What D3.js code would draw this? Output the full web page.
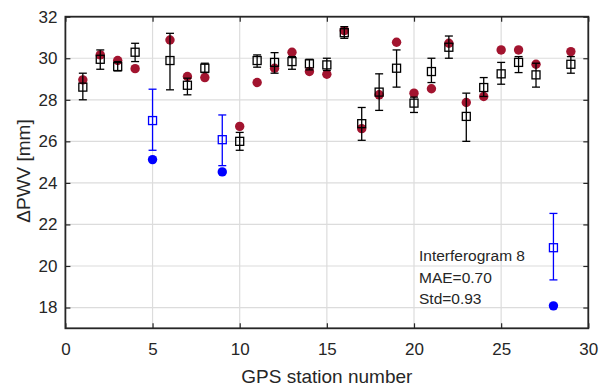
<!DOCTYPE html>
<html>
<head>
<meta charset="utf-8">
<script src="https://cdn.jsdelivr.net/npm/d3@7"></script>
<style>
  html, body { margin: 0; padding: 0; background: #fff; }
  svg text { font-family: "Liberation Sans", Arial, sans-serif; fill: #262626; }
</style>
</head>
<body>
<svg id="chart" width="612" height="389"></svg>
<script>
// Station numbers
const stations = [1,2,3,4,5,6,7,8,9,10,11,12,13,14,15,16,17,18,19,20,21,22,23,24,25,26,27,28,29];
// InSAR-derived ΔPWV estimates (squares) with lower / upper error bounds
const estimate = [28.61,29.95,29.60,30.29,27.00,29.89,28.70,29.52,26.08,26.00,29.89,29.80,29.84,29.73,29.68,31.23,26.85,28.37,29.52,27.84,29.36,30.53,27.20,28.59,29.25,29.80,29.20,20.88,29.71];
const errLow   = [28.00,29.47,29.39,29.84,25.57,28.48,28.24,29.31,24.83,25.57,29.57,29.28,29.47,29.44,29.41,30.96,26.05,27.49,28.61,27.39,28.83,30.00,26.00,28.16,28.75,29.31,28.61,19.33,29.28];
const errHigh  = [29.28,30.40,29.84,30.72,28.51,31.20,29.04,29.76,27.27,26.43,30.16,30.27,30.08,29.95,30.00,31.52,27.63,29.25,30.40,28.13,30.00,31.07,28.32,29.07,29.80,30.08,29.76,22.53,30.08];
// GPS-derived ΔPWV (filled circles)
const gps      = [28.96,30.16,29.89,29.50,25.12,30.88,29.12,29.07,24.53,26.72,28.83,29.52,30.29,29.36,29.23,31.33,26.61,28.24,30.77,28.32,28.53,30.72,27.87,28.16,30.40,30.40,29.71,18.08,30.32];
// Stations flagged as outliers (drawn in blue)
const outliers = [5, 9, 28];
const xTicks = [0,5,10,15,20,25,30];
const yTicks = [18,20,22,24,26,28,30,32];
const annotation = ["Interferogram 8", "MAE=0.70", "Std=0.93"];

const svg = d3.select("#chart");
const plotL = 65.4, plotR = 588.3, plotT = 16.7, plotB = 328.3;

const x = d3.scaleLinear().domain([0, 30]).range([plotL, plotR]);
const y = d3.scaleLinear().domain([17, 32]).range([plotB, plotT]);

const axisColor = "#262626";
const red = "#A2142F";
const blue = "#0000FF";

// grid
svg.append("g").selectAll("line").data(xTicks).join("line")
  .attr("x1", d => x(d)).attr("x2", d => x(d))
  .attr("y1", plotT).attr("y2", plotB)
  .attr("stroke", "#dcdcdc").attr("stroke-width", 1.2);
svg.append("g").selectAll("line").data(yTicks).join("line")
  .attr("x1", plotL).attr("x2", plotR)
  .attr("y1", d => y(d)).attr("y2", d => y(d))
  .attr("stroke", "#dcdcdc").attr("stroke-width", 1.2);

// axes with inward ticks on all four sides
const tickLen = 5;
const gb = svg.append("g").attr("transform", `translate(0,${plotB})`)
  .call(d3.axisBottom(x).tickValues(xTicks).tickSizeInner(-tickLen).tickSizeOuter(0).tickPadding(15));
const gt = svg.append("g").attr("transform", `translate(0,${plotT})`)
  .call(d3.axisTop(x).tickValues(xTicks).tickSizeInner(-tickLen).tickSizeOuter(0).tickFormat(""));
const gl = svg.append("g").attr("transform", `translate(${plotL},0)`)
  .call(d3.axisLeft(y).tickValues(yTicks).tickSizeInner(-tickLen).tickSizeOuter(0).tickPadding(8));
const gr = svg.append("g").attr("transform", `translate(${plotR},0)`)
  .call(d3.axisRight(y).tickValues(yTicks).tickSizeInner(-tickLen).tickSizeOuter(0).tickFormat(""));
[gb, gt, gl, gr].forEach(g => {
  g.select(".domain").remove();
  g.selectAll(".tick line").attr("stroke", axisColor).attr("stroke-width", 1.2);
  g.selectAll(".tick text").attr("font-size", 17).attr("fill", "#262626")
    .style("font-family", "'Liberation Sans', Arial, sans-serif");
});

// frame
svg.append("rect")
  .attr("x", plotL).attr("y", plotT)
  .attr("width", plotR - plotL).attr("height", plotB - plotT)
  .attr("fill", "none").attr("stroke", axisColor).attr("stroke-width", 1.8);

// axis titles
svg.append("text")
  .attr("x", (plotL + plotR) / 2).attr("y", 383)
  .attr("text-anchor", "middle").attr("font-size", 19)
  .text("GPS station number");
svg.append("text")
  .attr("transform", `translate(30,171) rotate(-90)`)
  .attr("text-anchor", "middle").attr("font-size", 19)
  .text("ΔPWV [mm]");

const rows = stations.map((s, i) => ({
  s, est: estimate[i], lo: errLow[i], hi: errHigh[i], gps: gps[i],
  color: outliers.includes(s) ? blue : "#000"
}));

// GPS circles
svg.append("g").selectAll("circle").data(rows).join("circle")
  .attr("cx", d => x(d.s)).attr("cy", d => y(d.gps)).attr("r", 4.7)
  .attr("fill", d => d.color === blue ? blue : red);

// error bars with caps
const cap = 4;
const eb = svg.append("g").selectAll("g").data(rows).join("g")
  .attr("stroke", d => d.color).attr("stroke-width", 1.3).attr("fill", "none");
eb.append("line")
  .attr("x1", d => x(d.s)).attr("x2", d => x(d.s))
  .attr("y1", d => y(d.lo)).attr("y2", d => y(d.hi));
eb.append("line")
  .attr("x1", d => x(d.s) - cap).attr("x2", d => x(d.s) + cap)
  .attr("y1", d => y(d.lo)).attr("y2", d => y(d.lo));
eb.append("line")
  .attr("x1", d => x(d.s) - cap).attr("x2", d => x(d.s) + cap)
  .attr("y1", d => y(d.hi)).attr("y2", d => y(d.hi));
// open squares
const sq = 4;
eb.append("rect")
  .attr("x", d => x(d.s) - sq).attr("y", d => y(d.est) - sq)
  .attr("width", 2 * sq).attr("height", 2 * sq)
  .attr("fill", "none");

// annotation
svg.append("g").selectAll("text").data(annotation).join("text")
  .attr("x", 419).attr("y", (d, i) => 261 + i * 21.6)
  .attr("font-size", 15.5).attr("fill", "#262626")
  .text(d => d);
</script>
</body>
</html>
